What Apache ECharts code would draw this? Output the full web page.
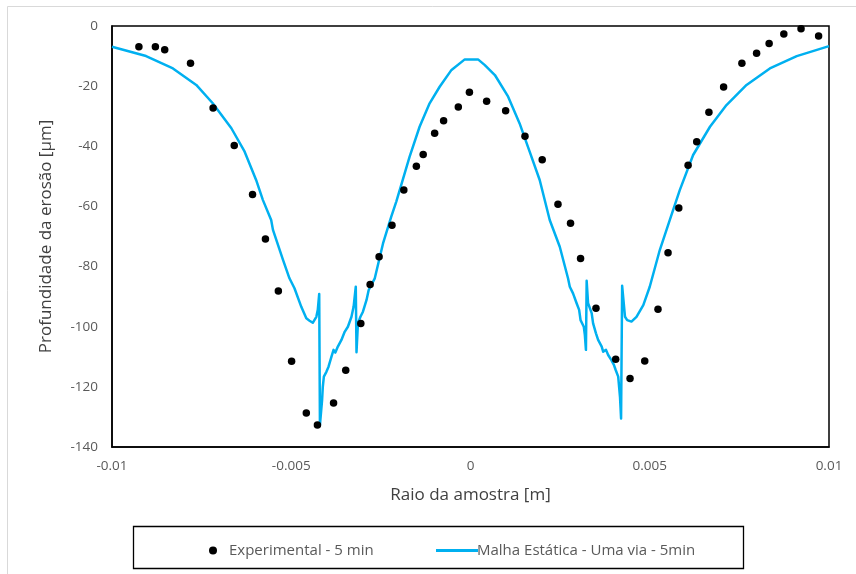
<!DOCTYPE html>
<html>
<head>
<meta charset="utf-8">
<script src="https://cdn.jsdelivr.net/npm/echarts@6/dist/echarts.min.js"></script>
<style>
  html, body { margin: 0; padding: 0; background: #fff; }
  #chart { width: 856px; height: 574px; }
</style>
</head>
<body>
<div id="chart"></div>
<script>
// Experimental erosion profile (radius in m, depth in µm)
var expX = [-0.00925, -0.00879, -0.00853, -0.00781, -0.00718, -0.00659, -0.00608, -0.00572, -0.00536, -0.00499,
  -0.00458, -0.00427, -0.00382, -0.00348, -0.00306, -0.00280, -0.00255, -0.00219, -0.00186, -0.00151,
  -0.00132, -0.00100, -0.00075, -0.00034, -0.00003, 0.00045, 0.00098, 0.00152, 0.00200, 0.00244,
  0.00279, 0.00307, 0.00350, 0.00405, 0.00445, 0.00486, 0.00523, 0.00551, 0.00581, 0.00607,
  0.00631, 0.00665, 0.00706, 0.00757, 0.00798, 0.00833, 0.00874, 0.00922, 0.00971];
var expY = [-6.9, -6.9, -7.9, -12.4, -27.3, -39.7, -56.0, -70.8, -88.1, -111.5,
  -128.7, -132.7, -125.4, -114.5, -98.9, -86.0, -76.7, -66.3, -54.5, -46.6,
  -42.7, -35.7, -31.5, -26.9, -22.0, -25.0, -28.2, -36.7, -44.5, -59.3,
  -65.6, -77.3, -93.9, -110.8, -117.2, -111.4, -94.2, -75.4, -60.5, -46.3,
  -38.5, -28.7, -20.3, -12.4, -9.1, -5.8, -2.7, -0.9, -3.3];

// Simulated profile: static mesh, one-way coupling
var simX = [-0.01000, -0.00905, -0.00830, -0.00765, -0.00719, -0.00667, -0.00630, -0.00598, -0.00579, -0.00556,
  -0.00551, -0.00523, -0.00505, -0.00491, -0.00472, -0.00458, -0.00449, -0.00440, -0.00430, -0.00426,
  -0.00422, -0.00420, -0.00414, -0.00412, -0.00409, -0.00402, -0.00396, -0.00388, -0.00382, -0.00377,
  -0.00370, -0.00360, -0.00351, -0.00342, -0.00332, -0.00326, -0.00320, -0.00318, -0.00314, -0.00307,
  -0.00300, -0.00290, -0.00284, -0.00267, -0.00244, -0.00221, -0.00207, -0.00170, -0.00142, -0.00114,
  -0.00086, -0.00053, -0.00016, 0.00021, 0.00040, 0.00068, 0.00105, 0.00137, 0.00165, 0.00193,
  0.00221, 0.00249, 0.00272, 0.00277, 0.00286, 0.00296, 0.00303, 0.00307, 0.00312, 0.00316,
  0.00319, 0.00322, 0.00324, 0.00328, 0.00333, 0.00338, 0.00342, 0.00350, 0.00356, 0.00366,
  0.00370, 0.00378, 0.00384, 0.00393, 0.00400, 0.00405, 0.00412, 0.00417, 0.00420, 0.00423,
  0.00431, 0.00437, 0.00449, 0.00463, 0.00482, 0.00500, 0.00528, 0.00556, 0.00584, 0.00621,
  0.00668, 0.00714, 0.00770, 0.00835, 0.00910, 0.01000];
var simY = [-6.9, -10.0, -14.1, -19.6, -25.7, -34.0, -41.8, -51.2, -57.9, -64.5,
  -67.8, -77.8, -83.9, -87.2, -93.4, -97.2, -98.0, -98.7, -96.7, -94.4,
  -89.1, -132.7, -124.4, -120.0, -116.6, -115.0, -113.3, -110.0, -107.7, -108.6,
  -106.6, -104.4, -101.7, -100.0, -96.7, -93.3, -86.7, -108.5, -98.9, -96.7,
  -95.0, -91.1, -87.8, -83.9, -72.3, -63.4, -58.4, -43.5, -33.5, -25.7,
  -20.2, -14.6, -11.1, -11.1, -13.0, -16.3, -23.5, -32.4, -41.8, -51.2,
  -64.5, -73.4, -83.9, -86.7, -88.9, -92.2, -94.4, -97.8, -97.2, -100.0,
  -102.8, -107.7, -84.7, -92.2, -92.8, -95.5, -98.9, -102.2, -104.4, -106.6,
  -108.3, -107.7, -109.4, -111.1, -112.7, -114.4, -116.6, -123.3, -130.5, -86.4,
  -96.7, -97.8, -98.3, -96.7, -92.8, -86.7, -74.5, -64.5, -54.5, -42.9,
  -33.5, -26.3, -19.6, -14.1, -10.0, -6.7];

var seriesNames = ['Experimental - 5 min', 'Malha Estática - Uma via - 5min'];
var xTicks = { min: -0.01, max: 0.01, step: 0.005 };
var yTicks = { min: -140, max: 0, step: 20 };

function zip(xs, ys) {
  return xs.map(function (x, i) { return [x, ys[i]]; });
}

var FONT = '"Open Sans", sans-serif';
var chart = echarts.init(document.getElementById('chart'), null, { renderer: 'canvas' });

chart.setOption({
  backgroundColor: '#fff',
  animation: false,
  graphic: [
    { type: 'rect', shape: { x: 7.5, y: 6.5, width: 900, height: 600 },
      style: { fill: 'none', stroke: '#d9d9d9', lineWidth: 1 }, z: -10 },
    { type: 'rect', shape: { x: 133.5, y: 526.5, width: 610, height: 42 },
      style: { fill: 'none', stroke: '#000', lineWidth: 1.3 }, z: -5 }
  ],
  grid: {
    left: 112, right: 27, top: 26, bottom: 127,
    show: true, borderColor: '#000', borderWidth: 1.5, backgroundColor: 'transparent'
  },
  legend: [
    {
      data: [{ name: seriesNames[0], icon: 'circle' }],
      left: 204, top: 538, itemWidth: 8, itemHeight: 8,
      textStyle: { color: '#595959', fontSize: 15, fontFamily: FONT, padding: [0, 0, 0, 7] }
    },
    {
      data: [{ name: seriesNames[1], icon: 'rect' }],
      left: 431, top: 538, itemWidth: 42, itemHeight: 3,
      textStyle: { color: '#595959', fontSize: 15, fontFamily: FONT, padding: [0, 0, 0, -6] }
    }
  ],
  xAxis: {
    type: 'value', min: xTicks.min, max: xTicks.max, interval: xTicks.step,
    name: 'Raio da amostra [m]', nameLocation: 'middle', nameGap: 40,
    nameTextStyle: { color: '#404040', fontSize: 17, fontFamily: FONT },
    axisLine: { show: true, onZero: false, lineStyle: { color: '#000', width: 1.5 } },
    axisTick: { show: false },
    splitLine: { show: false },
    axisLabel: {
      color: '#595959', fontSize: 13.5, fontFamily: FONT, margin: 12,
      formatter: function (v) { return String(Math.round(v * 1000) / 1000); }
    }
  },
  yAxis: {
    type: 'value', min: yTicks.min, max: yTicks.max, interval: yTicks.step,
    name: 'Profundidade da erosão [µm]', nameLocation: 'middle', nameGap: 57,
    nameTextStyle: { color: '#404040', fontSize: 17, fontFamily: FONT },
    axisLine: { show: true, onZero: false, lineStyle: { color: '#000', width: 1.5 } },
    axisTick: { show: false },
    splitLine: { show: false },
    axisLabel: { color: '#595959', fontSize: 13.5, fontFamily: FONT, margin: 14 }
  },
  series: [
    {
      name: seriesNames[0], type: 'scatter', data: zip(expX, expY),
      symbol: 'circle', symbolSize: 7.5,
      itemStyle: { color: '#000', opacity: 1 }, z: 3
    },
    {
      name: seriesNames[1], type: 'line', data: zip(simX, simY),
      showSymbol: false, symbol: 'none',
      lineStyle: { color: '#00b0f0', width: 2.5, join: 'round' },
      itemStyle: { color: '#00b0f0' }, z: 2
    }
  ]
});
</script>
</body>
</html>
